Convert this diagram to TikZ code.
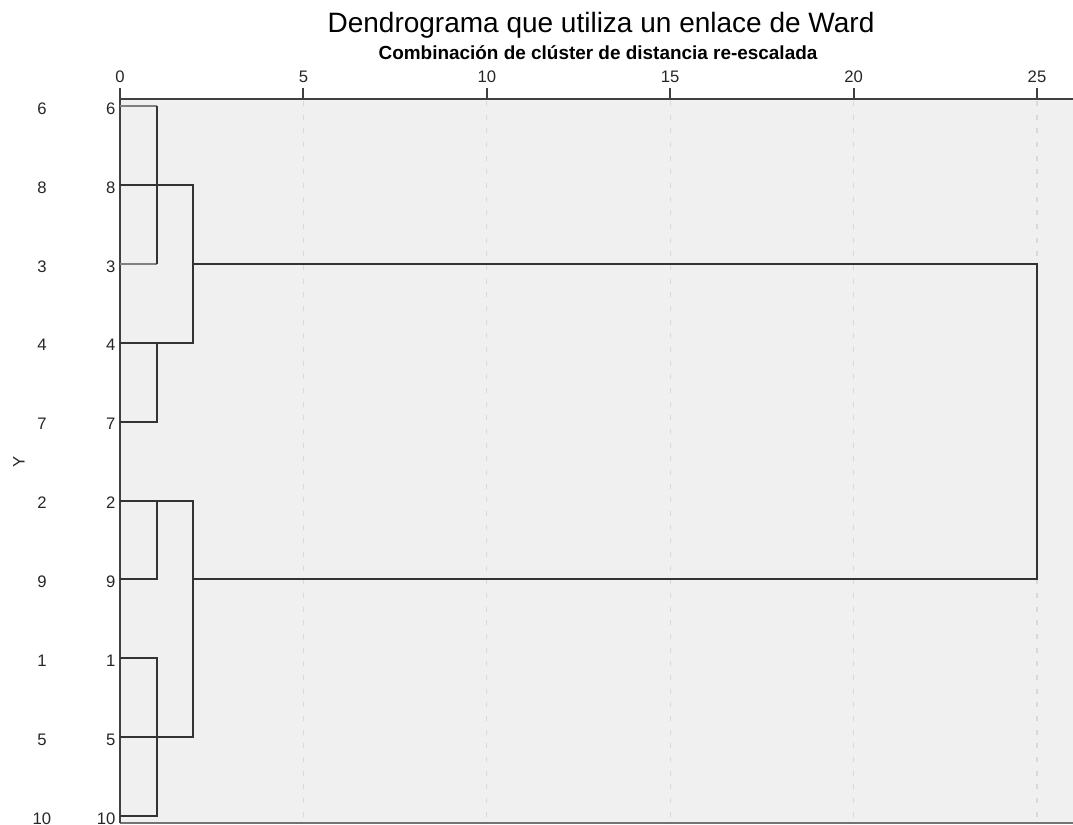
\documentclass[tikz,border=0pt]{standalone}
\usepackage{fontspec}
\setmainfont{Liberation Sans}
\definecolor{panelgray}{HTML}{F0F0F0}
\begin{document}
\begin{tikzpicture}[x=0.75pt,y=-0.75pt,
    leaflab/.style={font=\fontsize{12.5}{14}\selectfont, text=black!85, inner sep=1pt},
    ticklab/.style={font=\fontsize{12.5}{14}\selectfont, text=black!85},
    axisline/.style={line width=1.5pt, draw=black!75},
    link/.style={line width=1.5pt, draw=black!80},
    weaklink/.style={line width=1.5pt, draw=black!50},
    gridline/.style={draw=black!15, line width=0.9pt, dash pattern=on 3.75pt off 6.5pt}]
    \useasboundingbox (0,0) rectangle (1073,824);

    \fill[fill=panelgray] (120,99) rectangle (1073,823);
    \draw[black!55, line width=0.8pt] (120,823) -- (1073,823);

    \foreach \t in {5,10,...,25}
        \draw[gridline] (120+36.68*\t,101) -- (120+36.68*\t,823);

    \draw[axisline] (119,99) -- (1073,99);
    \draw[axisline] (120,88) -- (120,823);
    \foreach \t in {0,5,...,25} {
        \draw[axisline] (120+36.68*\t,88) -- (120+36.68*\t,99);
        \node[ticklab] (tick\t) at (120+36.68*\t,77) {\t};
    }

    \node[font=\fontsize{21}{24}\selectfont] (title) at (601,25) {Dendrograma que utiliza un enlace de Ward};
    \node[font=\fontsize{14.2}{16}\selectfont\bfseries] (subtitle) at (598,53) {Combinación de clúster de distancia re-escalada};
    \node[leaflab, rotate=90] (ylab) at (19,462) {Y};

    \foreach \lab [count=\i from 0] in {6,8,3,4,7,2,9,1,5,10} {
        \pgfmathsetmacro\rowy{106+78.9*\i}
        \coordinate (r\i) at (120,\rowy);
        \node[leaflab] (lab\i) at (42,\rowy+2.5) {\lab};
        \node[leaflab, anchor=east] (leaf\i) at (117,\rowy+2.5) {\lab};
    }

    \coordinate (m1) at (156.7,0);
    \coordinate (m2) at (193.4,0);
    \coordinate (m25) at (1037,0);

    \draw[weaklink] (r0) -- (r0-|m1);
    \draw[weaklink] (r2) -- (r2-|m1);
    \draw[link] (r0-|m1) -- (r2-|m1);
    \draw[link] (r1) -- (r1-|m2) -- (r3-|m2) -- (r3);
    \draw[link] (r3-|m1) -- (r4-|m1) -- (r4);
    \draw[link] (r2-|m2) -- (r2-|m25) -- (r6-|m25) -- (r6-|m2);
    \draw[link] (r5) -- (r5-|m2) -- (r8-|m2) -- (r8);
    \draw[link] (r5-|m1) -- (r6-|m1) -- (r6);
    \draw[link] (r7) -- (r7-|m1) -- (r9-|m1) -- (r9);

\end{tikzpicture}
\end{document}
